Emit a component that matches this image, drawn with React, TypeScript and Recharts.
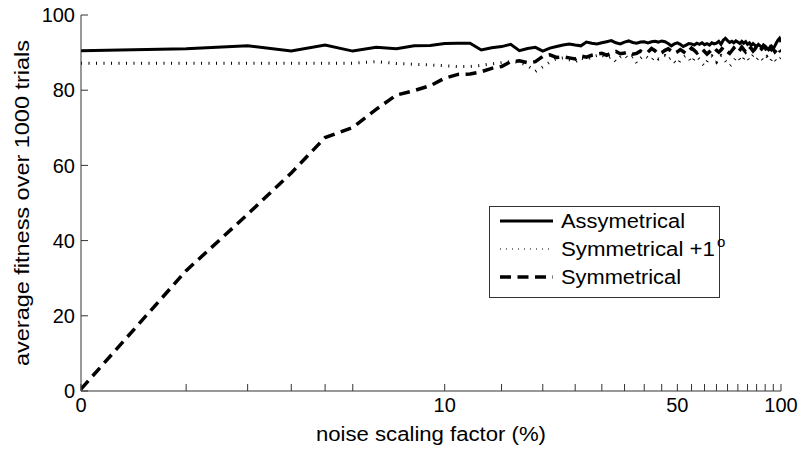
import { Legend, Line, LineChart, XAxis, YAxis } from 'recharts';

const FONT = '"Liberation Sans", Arial, Helvetica, sans-serif';
const AXIS_COLOR = '#333';

const NOISE_PCT = [
  0, 1, 2, 3, 4, 5, 6, 7, 8, 9, 10, 11, 12, 13, 14, 15, 16, 17, 18, 19, 20, 21, 22, 23, 24, 25, 26,
  27, 28, 29, 30, 31, 32, 33, 34, 35, 36, 37, 38, 39, 40, 41, 42, 43, 44, 45, 46, 47, 48, 49, 50,
  51, 52, 53, 54, 55, 56, 57, 58, 59, 60, 61, 62, 63, 64, 65, 66, 67, 68, 69, 70, 71, 72, 73, 74,
  75, 76, 77, 78, 79, 80, 81, 82, 83, 84, 85, 86, 87, 88, 89, 90, 91, 92, 93, 94, 95, 96, 97, 98,
  99, 100,
];

const ASYMMETRICAL = [
  90.5, 91.0, 91.8, 90.4, 92.0, 90.4, 91.4, 91.0, 91.8, 91.9, 92.4, 92.5, 92.5, 90.7, 91.3, 91.6,
  92.2, 90.5, 91.1, 91.4, 90.4, 91.2, 91.6, 92.0, 92.3, 92.0, 91.8, 92.8, 92.5, 92.3, 92.6, 92.9,
  93.2, 92.6, 92.3, 92.8, 93.1, 92.7, 92.5, 92.8, 92.9, 92.6, 92.9, 93.0, 92.8, 93.1, 92.9, 92.4,
  91.8, 92.3, 92.6, 92.2, 91.6, 92.0, 92.4, 92.3, 92.0, 92.5, 92.2, 92.6, 92.1, 92.4, 92.0, 92.6,
  92.3, 92.5, 93.0, 92.2, 93.3, 93.8, 93.2, 92.7, 93.0, 92.6, 93.1, 92.8, 92.4, 93.0, 92.5, 92.9,
  92.2, 92.6, 91.9, 92.4, 92.0, 91.6, 92.2, 91.8, 91.4, 92.0, 91.7, 91.2, 90.8, 91.5, 90.7, 91.0,
  91.8, 92.6, 93.3, 93.8, 92.8,
];

const SYMMETRICAL_PLUS_1 = [
  87.2, 87.2, 87.2, 87.2, 87.2, 87.2, 87.6, 87.1, 86.9, 86.7, 86.5, 86.3, 86.3, 86.6, 87.0, 87.3,
  87.6, 87.4, 86.5, 85.0, 86.2, 87.5, 88.4, 88.6, 88.1, 87.5, 88.6, 88.0, 88.9, 89.2, 89.4, 88.4,
  88.9, 87.6, 88.8, 89.4, 88.2, 88.9, 87.2, 88.5, 89.3, 88.6, 87.9, 89.0, 88.3, 88.9, 89.2, 88.1,
  88.7, 87.6, 86.8, 88.0, 88.8, 89.3, 88.6, 87.3, 88.4, 89.0, 88.2, 87.1, 86.4, 87.6, 88.5, 89.1,
  88.3, 87.5, 88.7, 89.2, 88.6, 87.8, 87.0, 86.4, 86.9, 87.8, 88.6, 89.0, 88.2, 87.5, 88.4, 89.1,
  88.5, 87.9, 88.7, 89.3, 88.8, 88.1, 88.6, 89.0, 88.3, 87.8, 88.4, 88.9, 88.2, 87.6, 88.3, 88.8,
  88.1, 87.7, 88.4, 88.2, 88.6,
];

const SYMMETRICAL = [
  0.5, 32.0, 47.0, 58.0, 67.4, 70.1, 74.9, 78.7, 79.9, 81.2, 83.2, 84.2, 84.3, 84.9, 85.8, 86.3,
  87.6, 87.8, 87.3, 87.6, 89.0, 89.4, 88.7, 88.9, 88.6, 88.3, 89.1, 88.8, 89.3, 89.6, 89.8, 89.3,
  89.9, 90.3, 89.7, 89.9, 90.2, 89.6, 89.8, 90.4, 89.9, 90.1, 91.1, 90.5, 89.6, 90.0, 90.6, 91.0,
  90.4, 89.8, 90.2, 90.8, 90.3, 89.7, 90.4, 91.2, 90.6, 89.9, 90.5, 91.0, 90.3, 89.6, 90.2, 90.8,
  91.3, 90.6, 90.1, 90.7, 91.4, 90.9, 90.2, 89.8, 90.5, 91.2, 90.6, 90.0, 90.7, 91.5, 90.8, 90.2,
  90.9, 91.6, 91.1, 90.4, 90.9, 91.7, 91.2, 90.6, 91.0, 91.8, 91.3, 90.5, 90.0, 90.8, 91.5, 90.9,
  90.2, 90.7, 91.4, 90.6, 90.2,
];

// minor ticks, in % (axis is log10(x + 1))
const X_TICKS = [
  0, 1, 2, 3, 4, 5, 10, 15, 20, 25, 30, 35, 40, 45, 50, 55, 60, 65, 70, 75, 80, 85, 90, 95, 100,
];
const X_TICK_LABELS = [0, 10, 50, 100];
const Y_TICKS = [0, 20, 40, 60, 80, 100];

const SERIES = [
  { key: 'asym', name: 'Assymetrical', dash: undefined, width: 3, textLength: 124 },
  { key: 'symPlus', name: 'Symmetrical +1', dash: '1 6.5', width: 3, textLength: 154 },
  { key: 'sym', name: 'Symmetrical', dash: '11 6.5', width: 3.5, textLength: 120 },
];

const data = NOISE_PCT.map((pct, i) => ({
  pos: pct + 1,
  asym: ASYMMETRICAL[i],
  symPlus: SYMMETRICAL_PLUS_1[i],
  sym: SYMMETRICAL[i],
}));

const logTicks = X_TICKS.map((t) => t + 1);

function xTickLabel(v: number) {
  const pct = Math.round(v - 1);
  return X_TICK_LABELS.includes(pct) ? String(pct) : '';
}

function XLabel(props: any) {
  const vb = props.viewBox ?? {};
  const cx = vb.width ? vb.x + vb.width / 2 : 431;
  return (
    <text
      x={cx}
      y={441}
      textAnchor="middle"
      fontSize={20}
      fontFamily={FONT}
      fill="#000"
      textLength={230}
      lengthAdjust="spacingAndGlyphs"
    >
      noise scaling factor (%)
    </text>
  );
}

function YLabel(props: any) {
  const vb = props.viewBox ?? {};
  const cy = vb.height ? vb.y + vb.height / 2 : 203;
  const cx = 22;
  return (
    <text
      x={cx}
      y={cy}
      transform={`rotate(-90 ${cx} ${cy})`}
      textAnchor="middle"
      dominantBaseline="central"
      fontSize={20}
      fontFamily={FONT}
      fill="#000"
      textLength={326}
      lengthAdjust="spacingAndGlyphs"
    >
      average fitness over 1000 trials
    </text>
  );
}

function LegendBox() {
  const rows = [15, 43, 71];
  return (
    <svg width={231} height={92} style={{ overflow: 'visible', display: 'block' }}>
      <rect x={0.5} y={0.5} width={230} height={91} fill="#fff" stroke={AXIS_COLOR} />
      {SERIES.map((s, i) => (
        <g key={s.key}>
          <line
            x1={11}
            x2={64}
            y1={rows[i]}
            y2={rows[i]}
            stroke="#000"
            strokeWidth={s.key === 'symPlus' ? 1.2 : s.width}
            strokeDasharray={s.key === 'symPlus' ? '1 5' : s.dash}
          />
          <text
            x={72}
            y={rows[i] + 7}
            fontSize={20}
            fontFamily={FONT}
            fill="#000"
            textLength={s.textLength}
            lengthAdjust="spacingAndGlyphs"
          >
            {s.name}
          </text>
        </g>
      ))}
      <text x={228} y={rows[1] - 2} fontSize={15} fontFamily={FONT} fill="#000">
        o
      </text>
    </svg>
  );
}

export default function App() {
  const tickStyle = { fontSize: 20, fill: '#000', fontFamily: FONT };
  return (
    <div style={{ position: 'absolute', left: 0, top: 0, background: '#fff' }}>
      <LineChart width={803} height={449} data={data} margin={{ top: 15, right: 22, bottom: 0, left: 0 }}>
        <XAxis
          dataKey="pos"
          type="number"
          scale="log"
          domain={[1, 101]}
          allowDataOverflow
          ticks={logTicks}
          interval={0}
          tickFormatter={xTickLabel}
          tick={tickStyle}
          tickSize={-7}
          tickMargin={14}
          height={58}
          stroke={AXIS_COLOR}
          label={{ content: XLabel }}
        />
        <XAxis
          xAxisId="top"
          orientation="top"
          dataKey="pos"
          type="number"
          scale="log"
          domain={[1, 101]}
          allowDataOverflow
          ticks={logTicks}
          interval={0}
          tickFormatter={() => ''}
          tickSize={-7}
          height={0}
          stroke={AXIS_COLOR}
        />
        <YAxis
          type="number"
          domain={[0, 100]}
          ticks={Y_TICKS}
          interval={0}
          tick={tickStyle}
          tickSize={-7}
          tickMargin={13}
          width={81}
          stroke={AXIS_COLOR}
          label={{ content: YLabel }}
        />
        <YAxis
          yAxisId="right"
          orientation="right"
          type="number"
          domain={[0, 100]}
          ticks={Y_TICKS}
          interval={0}
          tickFormatter={() => ''}
          tickSize={-7}
          width={0}
          stroke={AXIS_COLOR}
        />
        <Legend
          layout="horizontal"
          verticalAlign="middle"
          align="center"
          content={LegendBox}
          wrapperStyle={{ left: 489, top: 206, width: 231, height: 92 }}
        />
        {SERIES.map((s) => (
          <Line
            key={s.key}
            dataKey={s.key}
            name={s.name}
            type="linear"
            stroke="#000"
            strokeWidth={s.width}
            strokeDasharray={s.dash}
            dot={false}
            activeDot={false}
            isAnimationActive={false}
          />
        ))}
      </LineChart>
    </div>
  );
}
